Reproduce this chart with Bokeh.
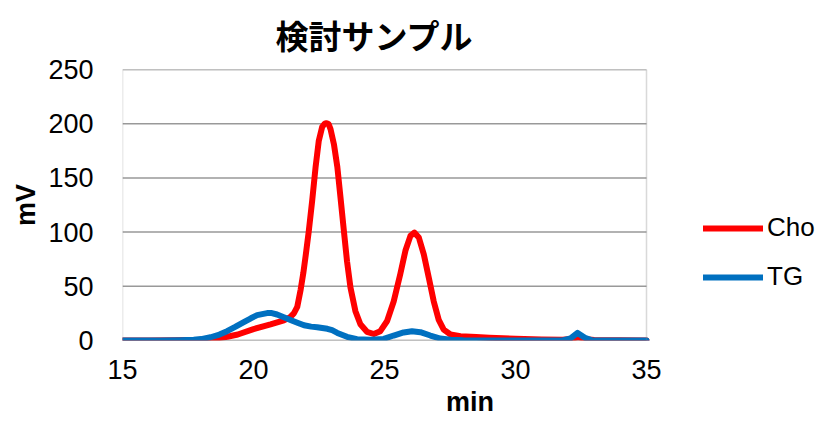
from bokeh.plotting import figure
from bokeh.models import Range1d, Legend, LegendItem, FixedTicker, Title, BoxAnnotation
from bokeh.embed import file_html
from bokeh.resources import INLINE

# ---- data ----
title_text = "検討サンプル"
x_label = "min"
y_label = "mV"
x_ticks = [15, 20, 25, 30, 35]
y_ticks = [0, 50, 100, 150, 200, 250]

cho_x = [15.0, 16.0, 17.0, 17.5, 18.0, 18.5, 19.0, 19.4, 20.0, 20.65, 21.16, 21.4, 21.54,
         21.67, 21.8, 21.9, 21.99, 22.11, 22.24, 22.37, 22.49, 22.62, 22.72, 22.79, 22.87,
         22.94, 23.07, 23.2, 23.32, 23.45, 23.57, 23.7, 23.89, 24.08, 24.33, 24.59, 24.84,
         25.1, 25.35, 25.6, 25.8, 25.99, 26.14, 26.31, 26.5, 26.69, 26.88, 27.07, 27.26,
         27.52, 27.9, 28.5, 29.0, 30.0, 31.0, 31.8, 32.1, 32.4, 32.7, 33.0, 34.0, 35.0]
cho_y = [0.0, 0.0, 0.3, 0.5, 0.7, 1.5, 3.5, 5.5, 10.5, 14.8, 18.5, 21.5, 25.0,
         31.0, 47.0, 62.0, 78.0, 101.0, 129.0, 160.0, 184.0, 197.0, 200.0, 200.5, 199.5,
         195.0, 181.0, 160.0, 132.0, 101.0, 73.0, 49.0, 27.0, 15.0, 8.0, 6.0, 8.6,
         18.0, 36.0, 61.0, 83.0, 96.5, 99.5, 95.0, 79.5, 58.0, 36.0, 19.0, 10.0,
         5.5, 4.0, 3.2, 2.6, 1.6, 1.0, 0.8, 1.5, 3.0, 1.2, 0.4, 0.2, 0.0]

tg_x = [15.0, 16.0, 16.45, 17.2, 17.72, 18.0, 18.36, 18.7, 18.99, 19.3, 19.63, 19.9, 20.14,
        20.52, 20.7, 20.9, 21.16, 21.41, 21.7, 21.93, 22.2, 22.43, 22.82, 23.0, 23.2,
        23.57, 23.95, 24.46, 24.97, 25.35, 25.73, 26.05, 26.37, 26.75, 27.13, 27.52, 28.0,
        29.0, 30.0, 31.0, 31.8, 32.1, 32.37, 32.65, 32.95, 34.0, 35.0]
tg_y = [0.0, 0.0, 0.0, 0.2, 0.6, 1.3, 3.0, 5.5, 8.6, 12.5, 17.0, 20.5, 23.4,
        25.3, 25.3, 24.0, 21.5, 19.0, 16.2, 14.0, 12.8, 12.3, 10.8, 9.5, 7.0,
        3.4, 1.2, 0.6, 1.5, 4.6, 7.4, 8.6, 7.7, 4.6, 1.8, 0.6, 0.2,
        0.0, 0.0, 0.0, 0.0, 2.0, 7.0, 2.5, 0.0, 0.0, 0.0]

series_names = ["Cho", "TG"]
series_colors = ["#FF0000", "#0070C0"]

FONT = "Liberation Sans"

# layout (pixels)
W, H = 817, 419
B_LEFT, B_RIGHT, B_TOP, B_BOTTOM = 122, 0, 69, 79
AREA_W = 524  # width of the visible plot area (x 15..35)
frame_w = W - B_LEFT - B_RIGHT
x0, x1 = x_ticks[0], x_ticks[-1]
x_end = x0 + frame_w * (x1 - x0) / AREA_W  # frame extends right to host the legend

p = figure(width=W, height=H, output_backend="svg", toolbar_location=None,
           x_range=Range1d(x0, x_end), y_range=Range1d(y_ticks[0], y_ticks[-1]),
           min_border_left=B_LEFT, min_border_right=B_RIGHT,
           min_border_top=B_TOP, min_border_bottom=B_BOTTOM)

p.title = Title(text=title_text, align="left", offset=153, standoff=18, vertical_align="top")
p.title.text_font = "Noto Sans CJK JP"
p.title.text_font_size = "33px"
p.title.text_font_style = "bold"
p.title.text_color = "#000000"

p.background_fill_color = "white"
p.border_fill_color = "white"
p.outline_line_color = None

p.xgrid.grid_line_color = None
p.ygrid.grid_line_color = None

for ax in (p.xaxis[0], p.yaxis[0]):
    ax.major_label_text_font = FONT
    ax.major_label_text_font_size = "27px"
    ax.major_label_text_color = "#000000"
    ax.axis_label_text_font = FONT
    ax.axis_label_text_font_size = "27px"
    ax.axis_label_text_font_style = "bold"
    ax.axis_label_text_color = "#000000"
    ax.major_tick_out = 0
    ax.major_tick_in = 0
    ax.minor_tick_out = 0
    ax.minor_tick_in = 0
    ax.axis_line_color = None

p.xaxis.ticker = FixedTicker(ticks=x_ticks)
p.yaxis.ticker = FixedTicker(ticks=y_ticks)
p.xaxis.axis_label = x_label
p.yaxis.axis_label = y_label
p.xaxis.major_label_standoff = 19
p.xaxis.axis_label_standoff = 5
p.yaxis.major_label_standoff = 29
p.yaxis.axis_label_standoff = 4

# horizontal gridlines over the plot area only
p.segment(x0=[x0] * len(y_ticks), x1=[x1] * len(y_ticks), y0=y_ticks, y1=y_ticks,
          line_color="#999999", line_width=1.5)
# plot-area border
p.add_layout(BoxAnnotation(left=x0, right=x1, bottom=y_ticks[0], top=y_ticks[-1],
                           fill_alpha=0, line_color="#808080", line_width=1.5))

r_cho = p.line(cho_x, cho_y, line_color=series_colors[0], line_width=6, line_join="round", line_cap="round")
r_tg = p.line(tg_x, tg_y, line_color=series_colors[1], line_width=6, line_join="round", line_cap="round")

legend = Legend(items=[LegendItem(label=series_names[0], renderers=[r_cho]),
                       LegendItem(label=series_names[1], renderers=[r_tg])],
                location=(581, 48))
legend.label_text_font = FONT
legend.label_text_font_size = "26px"
legend.label_text_color = "#000000"
legend.glyph_width = 60
legend.glyph_height = 30
legend.label_height = 30
legend.label_standoff = 4
legend.spacing = 18
legend.padding = 10
legend.margin = 0
legend.border_line_color = None
legend.background_fill_alpha = 0
p.add_layout(legend)

open("out.html", "w").write(file_html(p, INLINE))
